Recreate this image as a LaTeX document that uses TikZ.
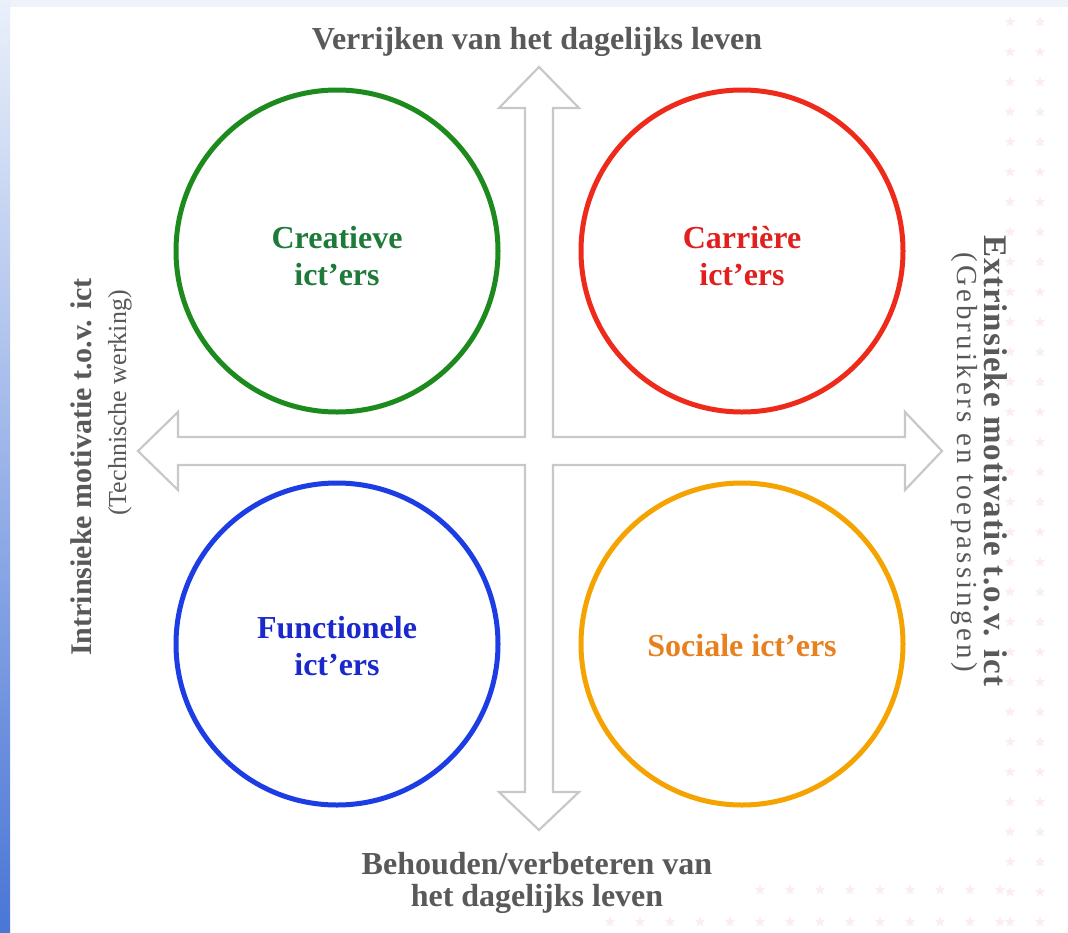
\documentclass[tikz,border=0pt]{standalone}
\usepackage{fontspec}
\setmainfont{Liberation Serif}
\usetikzlibrary{shapes.geometric}
\definecolor{txtgray}{HTML}{595959}
\definecolor{arrgray}{HTML}{C8C8C8}
\definecolor{cgreen}{HTML}{1C8A1C}
\definecolor{tgreen}{HTML}{1E7A38}
\definecolor{cred}{HTML}{EE2B1B}
\definecolor{tred}{HTML}{E0201E}
\definecolor{cblue}{HTML}{1C3CE4}
\definecolor{tblue}{HTML}{1A28CC}
\definecolor{corange}{HTML}{F5A300}
\definecolor{torange}{HTML}{E8801E}
\definecolor{starpink}{HTML}{FCEDF0}
\definecolor{topblue}{HTML}{EEF3FA}
\definecolor{striptop}{HTML}{EAF0FA}
\definecolor{stripbot}{HTML}{4A76D6}
\tikzset{
  big/.style={font=\fontsize{32}{37}\selectfont\bfseries},
  sub/.style={font=\fontsize{26}{30}\selectfont},
  axislabel/.style={big, text=txtgray, inner sep=0pt},
  sublabel/.style={sub, text=txtgray, inner sep=0pt},
  ring/.style={circle, line width=5pt, minimum size=322pt, inner sep=0pt},
  ringtext/.style={big, align=center},
  starmark/.style={star, star points=5, star point ratio=2.3, fill=starpink, draw=none, minimum size=11pt, inner sep=0pt}
}
\begin{document}
\begin{tikzpicture}[x=1pt,y=-1pt]
\useasboundingbox (0,0) rectangle (1068,932);
\fill[white] (0,0) rectangle (1068,932);
% faint star pattern
\foreach \yy in {22,52,...,932} {
  \foreach \xx in {1010,1040} { \node[starmark] at (\xx,\yy) {}; }
}
\foreach \xx in {760,790,...,1000} { \node[starmark] at (\xx,890) {}; }
\foreach \xx in {610,640,...,1000} { \node[starmark] at (\xx,922) {}; }
% top and left strips
\fill[topblue] (0,0) rectangle (1068,7);
\shade[top color=striptop, bottom color=stripbot] (0,0) rectangle (10,932);
% cross arrows
\filldraw[draw=arrgray, fill=white, line width=2.2pt, line join=miter]
  (539,67) -- (579,108) -- (553,108) -- (553,437) -- (905,437) -- (905,412)
  -- (942,451) -- (905,490) -- (905,465) -- (553,465) -- (553,792) -- (579,792)
  -- (539,830) -- (499,792) -- (525,792) -- (525,465) -- (178,465) -- (178,490)
  -- (138,451) -- (178,412) -- (178,437) -- (525,437) -- (525,108) -- (499,108) -- cycle;
% circles
\node[ring, draw=cgreen] (green) at (337,251) {};
\node[ring, draw=cred] (red) at (742,251) {};
\node[ring, draw=cblue] (blue) at (337,644) {};
\node[ring, draw=corange] (orange) at (742,644) {};
\node[ringtext, text=tgreen] (tg) at (337,256) {Creatieve\\ict’ers};
\node[ringtext, text=tred] (tr) at (742,256) {Carrière\\ict’ers};
\node[ringtext, text=tblue] (tb) at (337,646) {Functionele\\ict’ers};
\node[ringtext, text=torange] (to) at (742,646) {Sociale ict’ers};
% axis labels
\node[axislabel, anchor=base] (top) at (537,49) {Verrijken van het dagelijks leven};
\node[axislabel, anchor=base] (bot1) at (537,874) {Behouden/verbeteren van};
\node[axislabel, anchor=base] (bot2) at (537,906) {het dagelijks leven};
\node[axislabel, rotate=90, font=\fontsize{30}{34}\selectfont\bfseries] (left1) at (81,467) {Intrinsieke motivatie t.o.v. ict};
\node[sublabel, rotate=90] (left2) at (120,403) {(Technische werking)};
\node[axislabel, rotate=-90, font=\fontsize{33}{37}\selectfont\bfseries\addfontfeatures{LetterSpace=3}] (right1) at (996,461) {Extrinsieke motivatie t.o.v. ict};
\node[sublabel, rotate=-90, font=\fontsize{29}{33}\selectfont\addfontfeatures{LetterSpace=11}] (right2) at (964,462) {(Gebruikers en toepassingen)};
\end{tikzpicture}
\end{document}
